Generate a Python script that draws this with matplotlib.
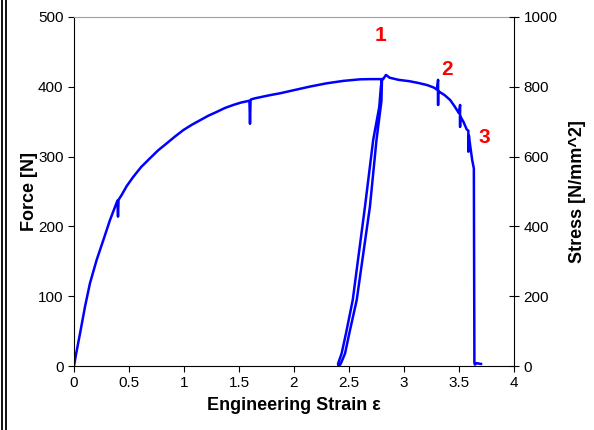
import numpy as np
import matplotlib.pyplot as plt
from matplotlib.lines import Line2D

plt.rcParams['font.family'] = ['Liberation Sans', 'DejaVu Sans']

# Force-strain trace (strain, force in N)
strain = [0.0, 0.02, 0.055, 0.10, 0.145, 0.206, 0.267, 0.327, 0.373, 0.395, 0.40, 0.405, 0.433,
          0.48, 0.539, 0.61, 0.69, 0.765, 0.843, 0.92, 0.994, 1.07, 1.145, 1.22, 1.297, 1.37,
          1.448, 1.52, 1.595, 1.600, 1.605, 1.61, 1.645,
          1.69, 1.78, 1.873, 1.994, 2.15, 2.297, 2.45, 2.6, 2.70, 2.78, 2.80,
          # unloading
          2.797, 2.795, 2.75, 2.69, 2.57, 2.503, 2.464, 2.43, 2.42, 2.405,
          # reloading
          2.40, 2.433, 2.473, 2.534, 2.645, 2.72, 2.775, 2.79, 2.80,
          2.81, 2.836, 2.87, 2.95, 3.05, 3.13, 3.21, 3.27, 3.30, 3.31, 3.31, 3.31, 3.32,
          3.37, 3.42, 3.46,
          3.50, 3.51, 3.51, 3.51, 3.54, 3.57, 3.585, 3.585, 3.59, 3.605, 3.62, 3.635,
          3.64, 3.645, 3.66, 3.70]
force = [0, 18, 46.8, 85, 118.5, 152, 180.5, 209, 228, 237, 214, 238, 245,
         258, 271, 285, 297.5, 309, 319, 329, 338, 345.5, 352, 358.5, 364, 369.5,
         374, 377.5, 380, 347, 380, 382, 383.5,
         385, 388, 390.7, 395, 400.5, 405, 408.5, 410.7, 411, 411, 411,
         395, 380, 324, 228, 94.5, 47, 18, 5, 2, 0,
         3, 18, 47, 94.5, 228, 324, 371, 400, 411,
         411, 417, 413, 410, 408, 405.5, 402.5, 399, 396, 410, 374, 394, 393,
         388, 381, 372,
         362, 374, 343, 358, 350, 339, 337, 307, 330, 312, 295, 283,
         4, 2, 4, 3]

# point labels
mark_txt = ['1', '2', '3']
mark_x = [2.79, 3.39, 3.73]
mark_y = [473, 425, 327]

fig = plt.figure(figsize=(5.94, 4.30), dpi=100)
ax = fig.add_axes([74 / 594, 1 - 366 / 430, 440 / 594, 349 / 430])

ax.plot(strain, force, color='#0000ff', lw=1.8, solid_joinstyle='round')
for t, x, y in zip(mark_txt, mark_x, mark_y):
    ax.text(x, y, t, color='#ff0000', fontsize=15, fontweight='bold',
            ha='center', va='center')

ax.set_xlim(0, 4)
ax.set_ylim(0, 500)
ax.set_xticks(np.arange(0, 4.01, 0.5))
ax.set_xticklabels(['0', '0.5', '1', '1.5', '2', '2.5', '3', '3.5', '4'])
ax.set_yticks(range(0, 501, 100))
ax.tick_params(direction='out', length=4, width=0.8, labelsize=11, colors='black')
ax.spines['top'].set_color('#a0a0a0')
ax.spines['right'].set_visible(False)
ax.set_xlabel('Engineering Strain ε', fontsize=13, fontweight='bold', labelpad=5)
ax.set_ylabel('Force [N]', fontsize=13, fontweight='bold', labelpad=0)

ax2 = ax.twinx()
ax2.set_ylim(0, 1000)
ax2.set_yticks(range(0, 1001, 200))
ax2.tick_params(direction='inout', length=7, width=0.8, labelsize=11)
for s in ['top', 'left', 'bottom']:
    ax2.spines[s].set_visible(False)
ax2.spines['right'].set_linewidth(0.8)
ax2.set_ylabel('Stress [N/mm^2]', fontsize=13, fontweight='bold', labelpad=8)

# double border on the left edge
fig.add_artist(Line2D([2 / 594, 2 / 594], [0, 1], color='black', lw=1.3))
fig.add_artist(Line2D([6 / 594, 6 / 594], [0, 1], color='black', lw=1.3))

plt.savefig('out.png', dpi=100, facecolor='white')
